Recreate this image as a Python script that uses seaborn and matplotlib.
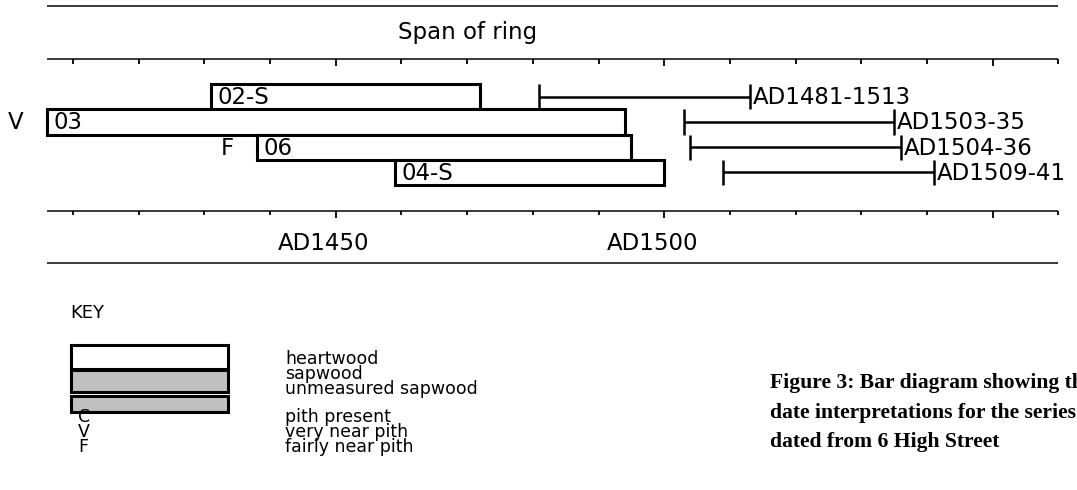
import numpy as np
import matplotlib
matplotlib.use("Agg")
import matplotlib.pyplot as plt
import matplotlib.transforms as mtransforms
import seaborn as sns

# --------------------------------------------------
# DATA
# --------------------------------------------------

samples = ["02-S", "03", "06", "04-S"]
ring_start = [1431, 1406, 1438, 1459]
ring_end = [1472, 1494, 1495, 1500]
pith_flag = ["", "V", "F", ""]

fell_start = [1481, 1503, 1504, 1509]
fell_end = [1513, 1535, 1536, 1541]
fell_labels = ["AD1481-1513", "AD1503-35", "AD1504-36", "AD1509-41"]

axis_years = [1406, 1560]
tick_years = list(range(1410, 1561, 10))
major_years = [1450, 1500, 1550]
year_labels = ["AD1450", "AD1500"]

key_labels = ["heartwood", "sapwood", "unmeasured sapwood",
              "pith present", "very near pith", "fairly near pith"]
key_codes = ["C", "V", "F"]
caption = ["Figure 3: Bar diagram showing the",
           "date interpretations for the series",
           "dated from 6 High Street"]

# --------------------------------------------------
# LAYOUT (pixels of a 1077x490 figure)
# --------------------------------------------------

W, H = 1077, 490
PX_PER_YEAR = 6.57
X1450 = 335.7
ROW0 = 96.6
ROW_PX = 25.3

sns.set_theme(style="white")
plt.rcParams["font.family"] = ["DejaVu Sans"]
plt.rcParams["text.color"] = "black"

fig = plt.figure(figsize=(W / 100, H / 100), dpi=100)
ax = fig.add_axes([0, 0, 1, 1])
x0 = 1450 - X1450 / PX_PER_YEAR
ax.set_xlim(x0, x0 + W / PX_PER_YEAR)
ax.set_ylim((H - ROW0) / ROW_PX, -ROW0 / ROW_PX)
ax.axis("off")


def py(p):
    return (p - ROW0) / ROW_PX


FS = 16.5
rows = np.arange(len(samples))

# horizontal rules
for p in [6, 59.5, 211, 263]:
    ax.hlines(py(p), axis_years[0], axis_years[1], color="#2a2a2a", lw=1.3)

# ticks on both scale lines
for p in [59.5, 211]:
    for yr in tick_years:
        ln = 7 if yr in major_years else 4.5
        ax.vlines(yr, py(p), py(p + ln), color="black", lw=1.3)

ax.text(1470, py(33), "Span of ring", ha="center", va="center", fontsize=FS)
lab_off = mtransforms.offset_copy(ax.transData, fig=fig, x=-12, y=0, units="dots")
for yr, lab in zip(major_years, year_labels):
    ax.text(yr, py(243.5), lab, ha="center", va="center", fontsize=FS,
            transform=lab_off)

# ring span bars
ax.barh(rows, np.array(ring_end) - np.array(ring_start), left=ring_start,
        height=1.0, color="white", edgecolor="black", lw=2.2, zorder=3)

in_off = mtransforms.offset_copy(ax.transData, fig=fig, x=7, y=0, units="dots")
flag_off = mtransforms.offset_copy(ax.transData, fig=fig, x=-23, y=0, units="dots")
for r, s, name, flag in zip(rows, ring_start, samples, pith_flag):
    ax.text(s, r + 0.04, name, ha="left", va="center", fontsize=FS,
            transform=in_off, zorder=4)
    if flag:
        ax.text(s, r + 0.04, flag, ha="right", va="center", fontsize=FS,
                transform=flag_off)

# felling date ranges
ax.hlines(rows, fell_start, fell_end, color="black", lw=1.8)
ax.vlines(fell_start, rows - 0.5, rows + 0.5, color="black", lw=1.8)
ax.vlines(fell_end, rows - 0.5, rows + 0.5, color="black", lw=1.8)
end_off = mtransforms.offset_copy(ax.transData, fig=fig, x=3, y=0, units="dots")
for r, e, lab in zip(rows, fell_end, fell_labels):
    ax.text(e, r + 0.04, lab, ha="left", va="center", fontsize=FS,
            transform=end_off)

# --------------------------------------------------
# KEY AND CAPTION (pixel overlay)
# --------------------------------------------------

kx = fig.add_axes([0, 0, 1, 1])
kx.set_xlim(0, W)
kx.set_ylim(H, 0)
kx.axis("off")

KFS = 12.5
kx.text(70, 318, "KEY", ha="left", va="baseline", fontsize=13)

boxes = [(345, 368.5, "white"), (369.5, 391.5, "#c0c0c0"), (396, 411.5, "#c0c0c0")]
for top, bot, fc in boxes:
    kx.add_patch(plt.Rectangle((71, top), 157, bot - top, facecolor=fc,
                               edgecolor="black", lw=2.2))

key_base = [364, 379, 394, 422, 437, 452]
for y, lab in zip(key_base, key_labels):
    kx.text(285, y, lab, ha="left", va="baseline", fontsize=KFS)
for y, code in zip(key_base[3:], key_codes):
    kx.text(78, y, code, ha="left", va="baseline", fontsize=KFS)

for i, line in enumerate(caption):
    kx.text(770, 388 + 29.5 * i, line, ha="left", va="baseline", fontsize=15.6,
            fontweight="bold", family=["Liberation Serif", "DejaVu Serif"])

fig.savefig("out.png", dpi=100)
